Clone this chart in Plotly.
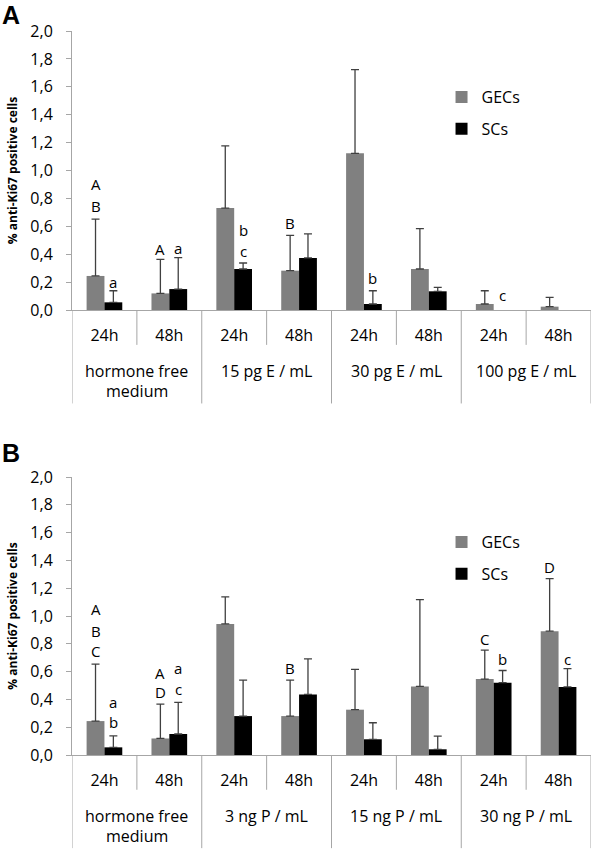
import plotly.graph_objects as go

# ---------------- data ----------------
times = ["24h", "48h"] * 4

groups_a = ["hormone free<br>medium", "15 pg E / mL", "30 pg E / mL", "100 pg E / mL"]
gec_a = [0.244, 0.119, 0.731, 0.282, 1.123, 0.294, 0.043, 0.024]
gec_a_sd = [0.408, 0.244, 0.445, 0.253, 0.600, 0.289, 0.095, 0.066]
sc_a = [0.055, 0.150, 0.294, 0.373, 0.043, 0.134, None, None]
sc_a_sd = [0.083, 0.225, 0.043, 0.172, 0.095, 0.028, None, None]

groups_b = ["hormone free<br>medium", "3 ng P / mL", "15 ng P / mL", "30 ng P / mL"]
gec_b = [0.244, 0.119, 0.943, 0.280, 0.326, 0.493, 0.546, 0.891]
gec_b_sd = [0.410, 0.247, 0.194, 0.259, 0.290, 0.625, 0.208, 0.378]
sc_b = [0.055, 0.151, 0.280, 0.436, 0.113, 0.041, 0.520, 0.490]
sc_b_sd = [0.082, 0.227, 0.259, 0.256, 0.119, 0.095, 0.088, 0.132]

# significance letters: category index, series ('g' = GECs, 's' = SCs), letter, height
lbl_a_idx = [0, 0, 0, 1, 1, 2, 2, 3, 4, 6]
lbl_a_ser = ["g", "g", "s", "g", "s", "s", "s", "g", "s", "s"]
lbl_a_txt = ["A", "B", "a", "A", "a", "b", "c", "B", "b", "c"]
lbl_a_y = [0.903, 0.743, 0.200, 0.440, 0.442, 0.576, 0.420, 0.624, 0.227, 0.108]

lbl_b_idx = [0, 0, 0, 0, 0, 1, 1, 1, 1, 3, 6, 6, 7, 7]
lbl_b_ser = ["g", "g", "g", "s", "s", "g", "g", "s", "s", "g", "g", "s", "g", "s"]
lbl_b_txt = ["A", "B", "C", "a", "b", "A", "D", "a", "c", "B", "C", "b", "D", "c"]
lbl_b_y = [1.049, 0.893, 0.745, 0.383, 0.234, 0.593, 0.450, 0.629, 0.474, 0.623, 0.838, 0.694, 1.353, 0.694]

yticks = [0, 0.2, 0.4, 0.6, 0.8, 1.0, 1.2, 1.4, 1.6, 1.8, 2.0]

# ---------------- style ----------------
FONT = "Open Sans"
FS = 16
GREY = "#808080"
AXIS = "#a6a6a6"
ERR = "#404040"
H = 857
BARGAP = 0.45
half = (1 - BARGAP) / 4  # offset of each bar centre from the category centre

x = list(range(len(times)))

fig = go.Figure()


def add_panel(gec, gec_sd, sc, sc_sd, xa, ya, leg):
    fig.add_trace(go.Bar(
        x=x, y=gec, name="GECs", marker_color=GREY, marker_line_width=0,
        error_y=dict(type="data", array=gec_sd, arrayminus=[0] * len(gec), symmetric=False,
                     color=ERR, thickness=1.3, width=4),
        xaxis=xa, yaxis=ya, legend=leg, legendgroup=leg + "g"))
    fig.add_trace(go.Bar(
        x=x, y=sc, name="SCs", marker_color="black", marker_line_width=0,
        error_y=dict(type="data", array=sc_sd, arrayminus=[0] * len(sc), symmetric=False,
                     color=ERR, thickness=1.3, width=4),
        xaxis=xa, yaxis=ya, legend=leg, legendgroup=leg + "s"))


add_panel(gec_a, gec_a_sd, sc_a, sc_a_sd, "x", "y", "legend")
add_panel(gec_b, gec_b_sd, sc_b, sc_b_sd, "x2", "y2", "legend2")

# letters above bars
for idx, ser, txt, yy, xr, yr in (
        [(i, s, t, v, "x", "y") for i, s, t, v in zip(lbl_a_idx, lbl_a_ser, lbl_a_txt, lbl_a_y)] +
        [(i, s, t, v, "x2", "y2") for i, s, t, v in zip(lbl_b_idx, lbl_b_ser, lbl_b_txt, lbl_b_y)]):
    fig.add_annotation(x=idx + (-half if ser == "g" else half), y=yy, xref=xr, yref=yr,
                       text=txt, showarrow=False, font=dict(family=FONT, size=15, color="black"),
                       xanchor="center", yanchor="middle", borderpad=0)

# group labels and dividers under the x axis
for groups, xr, yr, hpx in ((groups_a, "x", "y domain", 279), (groups_b, "x2", "y2 domain", 278)):
    for g, name in enumerate(groups):
        for k, line in enumerate(name.split("<br>")):
            fig.add_annotation(x=2 * g + 0.5, y=-(61 + 20 * k) / hpx, xref=xr, yref=yr, text=line,
                               showarrow=False, font=dict(family=FONT, size=FS, color="black"),
                               xanchor="center", yanchor="middle", borderpad=0)
    for b in range(len(times) + 1):
        long = b % 2 == 0
        fig.add_shape(type="line", xref=xr, yref=yr, x0=b - 0.5, x1=b - 0.5,
                      y0=0, y1=-0.335 if long else -0.125,
                      line=dict(color=AXIS, width=1))

# panel letters
for txt, ypx in (("A", 0), ("B", 438)):
    fig.add_annotation(x=-0.136, y=1 - ypx / H, xref="paper", yref="paper", text="<b>%s</b>" % txt,
                       showarrow=False, xanchor="left", yanchor="top", borderpad=0,
                       font=dict(family="Liberation Sans", size=25, color="black"))

xaxis_style = dict(range=[-0.5, 7.5], tickvals=x, ticktext=times, ticks="", showline=True,
                   linecolor=AXIS, linewidth=1, showgrid=False, zeroline=False, automargin=False,
                   tickfont=dict(family=FONT, size=FS, color="black"), ticklabelstandoff=11,
                   fixedrange=True)
yaxis_style = dict(range=[0, 2.0], tickvals=yticks, tickformat=".1f", ticks="outside", ticklen=5,
                   tickcolor=AXIS, showline=True, linecolor=AXIS, linewidth=1, showgrid=False,
                   zeroline=False, automargin=False, fixedrange=True,
                   tickfont=dict(family=FONT, size=FS, color="black"),
                   ticklabelstandoff=10,
                   title=dict(text="<b>% anti-Ki67 positive cells</b>", standoff=10,
                              font=dict(family=FONT, size=12, color="black")))

legend_style = dict(font=dict(family=FONT, size=FS, color="black"), bgcolor="rgba(0,0,0,0)",
                    xanchor="left", yanchor="top", tracegroupgap=8, itemwidth=30)

fig.update_layout(
    width=600, height=H,
    margin=dict(l=72, r=9, t=0, b=0, autoexpand=False),
    paper_bgcolor="white", plot_bgcolor="white",
    separators=", ",
    barmode="group", bargap=BARGAP, bargroupgap=0,
    xaxis=dict(domain=[0, 1], anchor="y", **xaxis_style),
    yaxis=dict(domain=[1 - 310 / H, 1 - 31 / H], anchor="x", **yaxis_style),
    xaxis2=dict(domain=[0, 1], anchor="y2", **xaxis_style),
    yaxis2=dict(domain=[1 - 755 / H, 1 - 477 / H], anchor="x2", **yaxis_style),
    legend=dict(x=0.712, y=1 - 80 / H, **legend_style),
    legend2=dict(x=0.712, y=1 - 525 / H, **legend_style),
)

fig.write_html("out.html", config={"displayModeBar": False},
               post_script="document.body.style.margin='0';")
